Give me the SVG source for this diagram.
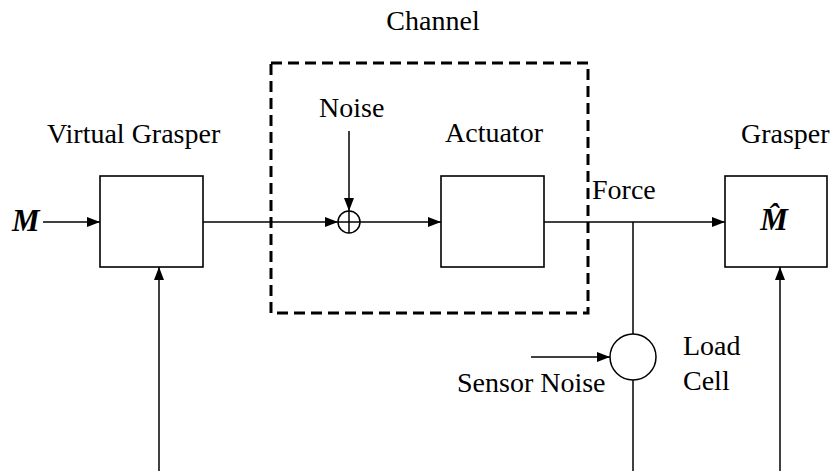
<svg xmlns="http://www.w3.org/2000/svg" width="831" height="471" viewBox="0 0 831 471">
<style>
text{font-family:"Liberation Serif","Times New Roman","DejaVu Serif",serif;font-size:28px;fill:#000}
.box{fill:#fff;stroke:#000;stroke-width:1.6}
.ln{fill:none;stroke:#000;stroke-width:1.5}
.mi{font-weight:bold;font-style:italic;font-size:31px}
</style>
<defs>
<marker id="ah" markerWidth="13" markerHeight="10" refX="13" refY="5" orient="auto" markerUnits="userSpaceOnUse">
<path d="M0,0 L13,5 L0,10 Z" fill="#000"/>
</marker>
</defs>
<rect width="831" height="471" fill="#fff"/>
<g id="channel">
<rect x="271" y="63" width="317" height="250" fill="none" stroke="#000" stroke-width="3" stroke-dasharray="11,6"/>
<text x="433" y="30" text-anchor="middle">Channel</text>
</g>
<g id="connectors">
<line class="ln" x1="43" y1="222" x2="100" y2="222" marker-end="url(#ah)"/>
<line class="ln" x1="203" y1="222" x2="338" y2="222" marker-end="url(#ah)"/>
<line class="ln" x1="349" y1="131" x2="349" y2="211" marker-end="url(#ah)"/>
<line class="ln" x1="360" y1="222" x2="441" y2="222" marker-end="url(#ah)"/>
<line class="ln" x1="544" y1="222" x2="725" y2="222" marker-end="url(#ah)"/>
<line class="ln" x1="633" y1="222" x2="633" y2="334"/>
<line class="ln" x1="633" y1="380" x2="633" y2="471"/>
<line class="ln" x1="531" y1="357" x2="610" y2="357" marker-end="url(#ah)"/>
<line class="ln" x1="159" y1="471" x2="159" y2="267" marker-end="url(#ah)"/>
<line class="ln" x1="780" y1="471" x2="780" y2="267" marker-end="url(#ah)"/>
</g>
<g id="input">
<text class="mi" x="12" y="231">M</text>
</g>
<g id="virtual-grasper">
<rect class="box" x="100" y="176" width="103" height="91"/>
<text x="47" y="143">Virtual Grasper</text>
</g>
<g id="sum">
<circle class="ln" cx="349" cy="222" r="11"/>
<line class="ln" x1="338" y1="222" x2="360" y2="222"/>
<line class="ln" x1="349" y1="211" x2="349" y2="233"/>
<text x="319" y="117">Noise</text>
</g>
<g id="actuator">
<rect class="box" x="441" y="176" width="103" height="91"/>
<text x="445" y="142">Actuator</text>
</g>
<g id="force">
<text x="592" y="199">Force</text>
</g>
<g id="grasper">
<rect class="box" x="725" y="176" width="102" height="91"/>
<text x="741" y="143">Grasper</text>
<text class="mi" x="774" y="230" text-anchor="middle">M&#x302;</text>
</g>
<g id="load-cell">
<circle class="ln" cx="633" cy="357" r="23"/>
<text x="683" y="355">Load</text>
<text x="683" y="390">Cell</text>
<text x="457" y="392">Sensor Noise</text>
</g>
</svg>
